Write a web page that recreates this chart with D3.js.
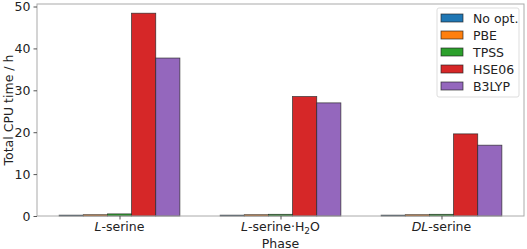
<!DOCTYPE html>
<html>
<head>
<meta charset="utf-8">
<script src="https://d3js.org/d3.v7.min.js"></script>
<style>
body{margin:0;background:#fff;}
text{font-family:"DejaVu Sans",sans-serif;}
</style>
</head>
<body>
<svg id="chart" width="527" height="249"></svg>
<script>
var phases = ["L-serine", "L-serine·H2O", "DL-serine"];
var methods = ["No opt.", "PBE", "TPSS", "HSE06", "B3LYP"];
var colors = ["#1f77b4", "#ff7f0e", "#2ca02c", "#d62728", "#9467bd"];
var noOpt = [0.2, 0.2, 0.2];
var pbe = [0.3, 0.3, 0.3];
var tpss = [0.5, 0.4, 0.4];
var hse06 = [48.4, 28.5, 19.6];
var b3lyp = [37.7, 27.0, 16.9];
var yTicks = [0, 10, 20, 30, 40, 50];
var series = [noOpt, pbe, tpss, hse06, b3lyp];

var svg = d3.select("#chart");
var L = 37, R = 524, T = 4, B = 216;
var barW = 0.15;

// category axis in data units, like matplotlib's margins
var x = d3.scaleLinear().domain([-0.5125, 2.5125]).range([L, R]);
var y = d3.scaleLinear().domain([0, 50.6]).range([B, T]);

var g = svg.append("g");
series.forEach(function(vals, j){
  g.selectAll(".b" + j).data(vals).enter().append("rect")
    .attr("x", function(d, i){ return x(i + (j - 2.5) * barW); })
    .attr("width", x(barW) - x(0))
    .attr("y", function(d){ return y(d); })
    .attr("height", function(d){ return y(0) - y(d); })
    .attr("fill", colors[j])
    .attr("stroke", "#222").attr("stroke-opacity", 0.8).attr("stroke-width", 0.8);
});

// frame
svg.append("rect").attr("x", L).attr("y", T).attr("width", R - L).attr("height", B - T)
  .attr("fill", "none").attr("stroke", "#aaa").attr("stroke-width", 1);

var yAxis = svg.append("g").attr("transform", "translate(" + L + ",0)")
  .call(d3.axisLeft(y).tickValues(yTicks).tickSize(3.5).tickPadding(3));
yAxis.select(".domain").remove();
yAxis.selectAll("line").attr("stroke", "#555");
yAxis.selectAll("text").attr("font-size", 12.5).attr("fill", "#222");

var xAxis = svg.append("g").attr("transform", "translate(0," + B + ")")
  .call(d3.axisBottom(x).tickValues([0, 1, 2]).tickSize(3.5).tickPadding(3).tickFormat(""));
xAxis.select(".domain").remove();
xAxis.selectAll("line").attr("stroke", "#555");

// phase labels with italic prefixes and subscript
var ly = B + 15;
var lab = svg.append("g").attr("font-size", 12.5).attr("fill", "#222").attr("text-anchor", "middle");
var t0 = lab.append("text").attr("x", x(0)).attr("y", ly);
t0.append("tspan").attr("font-style", "italic").text("L");
t0.append("tspan").text("-serine");
var t1 = lab.append("text").attr("x", x(1)).attr("y", ly);
t1.append("tspan").attr("font-style", "italic").text("L");
t1.append("tspan").text("-serine·H");
t1.append("tspan").attr("font-size", 9).attr("dy", 3).text("2");
t1.append("tspan").attr("dy", -3).text("O");
var t2 = lab.append("text").attr("x", x(2)).attr("y", ly);
t2.append("tspan").attr("font-style", "italic").text("DL");
t2.append("tspan").text("-serine");

svg.append("text").attr("x", (L + R) / 2).attr("y", 247.5).attr("text-anchor", "middle")
  .attr("font-size", 12.5).attr("fill", "#222").text("Phase");
svg.append("text").attr("transform", "translate(13," + ((T + B) / 2) + ") rotate(-90)")
  .attr("text-anchor", "middle").attr("font-size", 12.5).attr("fill", "#222").text("Total CPU time / h");

// legend
var lg = svg.append("g");
lg.append("rect").attr("x", 437).attr("y", 8).attr("width", 82).attr("height", 89).attr("rx", 2)
  .attr("fill", "#fff").attr("fill-opacity", 0.8).attr("stroke", "#ddd");
methods.forEach(function(m, j){
  var yy = 18 + j * 17;
  lg.append("rect").attr("x", 441).attr("y", yy - 4).attr("width", 22).attr("height", 8)
    .attr("fill", colors[j]).attr("stroke", "#222").attr("stroke-opacity", 0.8).attr("stroke-width", 0.8);
  lg.append("text").attr("x", 473).attr("y", yy + 4.5).attr("font-size", 12.5).attr("fill", "#222").text(m);
});
</script>
</body>
</html>
